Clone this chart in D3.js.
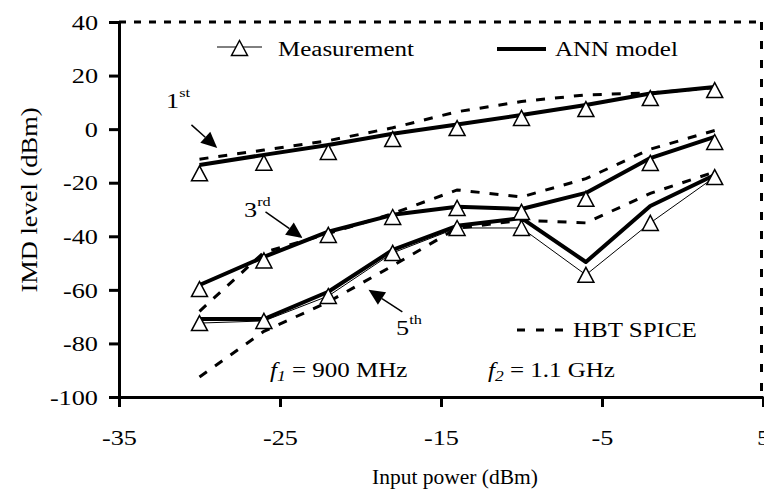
<!DOCTYPE html>
<html>
<head>
<meta charset="utf-8">
<script src="https://cdn.jsdelivr.net/npm/d3@7"></script>
<style>
  body { margin: 0; background: #fff; }
  text { font-family: 'Liberation Serif', 'Times New Roman', serif; fill: #000; }
</style>
</head>
<body>
<div id="chart"></div>
<script>
// IMD level vs input power: measurement, ANN model, HBT SPICE

// Data
const inputPower = [-30, -26, -22, -18, -14, -10, -6, -2, 2]

const meas1st = [-16.5, -12.5, -8.5, -3.7, 0.4, 4.2, 7.5, 11.6, 14.6]
const ann1st = [-13.4, -9.6, -5.9, -1.7, 1.7, 5.3, 9, 13.3, 15.7]
const spice1st = [-11.2, -7.8, -4.3, 0.5, 6.5, 10.3, 12.8, 13.5, 15.5]

const meas3rd = [-59.7, -49, -39.5, -32.8, -29.4, -30.9, -26, -12.6, -4.8]
const ann3rd = [-58.2, -47.7, -38.3, -32, -29, -29.8, -23.8, -10.8, -2.9]
const spice3rd = [-68, -46, -39, -31.5, -22.7, -25.3, -18.5, -7.5, -0.5]

const meas5th = [-72.4, -71.6, -62.3, -46.2, -36.9, -36.9, -54.4, -35, -17.9]
const ann5th = [-70.9, -70.9, -60.7, -45.1, -36.1, -33.2, -49.6, -28.7, -17.1]
const spice5th = [-92.5, -75.5, -64.5, -51, -37, -34, -35, -24, -16]

const xTicks = [-35, -25, -15, -5, 5]
const yTicks = [-100, -80, -60, -40, -20, 0, 20, 40]

// Layout
const width = 764
const height = 493
const margin = { top: 22, right: 1, bottom: 96, left: 119 }
const stretch = 1.25

const svg = d3.select('#chart')
  .append('svg')
  .attr('width', width)
  .attr('height', height)

const x = d3.scaleLinear().domain([-35, 5]).range([margin.left, width - margin.right])
const y = d3.scaleLinear().domain([-100, 40]).range([height - margin.bottom, margin.top])

// dashed frame on top and right
svg.append('line')
  .attr('x1', x(-35)).attr('x2', x(5))
  .attr('y1', y(40)).attr('y2', y(40))
  .attr('stroke', '#000').attr('stroke-width', 3)
  .attr('stroke-dasharray', '7,8')
svg.append('line')
  .attr('x1', x(5) - 1.5).attr('x2', x(5) - 1.5)
  .attr('y1', y(40)).attr('y2', y(-100))
  .attr('stroke', '#000').attr('stroke-width', 3)
  .attr('stroke-dasharray', '8,11')

// Axes
const fmt = d => String(d)

const yAxis = svg.append('g')
  .attr('transform', `translate(${x(-35)},0)`)
  .call(d3.axisLeft(y).tickValues(yTicks).tickFormat(fmt).tickSize(10).tickSizeOuter(0))
yAxis.select('.domain').attr('stroke-width', 3)
yAxis.selectAll('.tick line').attr('stroke-width', 3)
yAxis.selectAll('.tick text')
  .style('font-family', "'Liberation Serif', serif")
  .style('font-size', '21px')
  .attr('x', -21 / stretch)
  .attr('dy', '0.34em')
  .attr('transform', `scale(${stretch},1)`)

const xAxis = svg.append('g')
  .attr('transform', `translate(0,${y(-100)})`)
  .call(d3.axisBottom(x).tickValues(xTicks).tickFormat(fmt).tickSize(10).tickSizeOuter(0))
xAxis.select('.domain').attr('stroke-width', 3)
xAxis.selectAll('.tick line').attr('stroke-width', 3)
xAxis.selectAll('.tick text')
  .style('font-family', "'Liberation Serif', serif")
  .style('font-size', '21px')
  .attr('y', 0)
  .attr('dy', 0)
  .attr('transform', `translate(0,48) scale(${stretch},1)`)

// Axis titles
svg.append('text')
  .attr('x', 455)
  .attr('y', 484)
  .attr('text-anchor', 'middle')
  .attr('font-size', 22)
  .attr('textLength', 166)
  .attr('lengthAdjust', 'spacingAndGlyphs')
  .text('Input power (dBm)')

svg.append('text')
  .attr('transform', 'translate(37,200) rotate(-90)')
  .attr('text-anchor', 'middle')
  .attr('font-size', 23)
  .attr('textLength', 185)
  .attr('lengthAdjust', 'spacingAndGlyphs')
  .text('IMD level (dBm)')

// Series
const line = d3.line().x(d => x(d[0])).y(d => y(d[1]))
const pairs = vals => inputPower.map((p, i) => [p, vals[i]])

const spiceSets = [spice1st, spice3rd, spice5th]
const annSets = [ann1st, ann3rd, ann5th]
const measSets = [meas1st, meas3rd, meas5th]
// only the 5th-order measurement shows its thin joining line
const measLine = [false, false, true]

spiceSets.forEach(s => {
  svg.append('path')
    .attr('d', line(pairs(s)))
    .attr('fill', 'none')
    .attr('stroke', '#000')
    .attr('stroke-width', 3)
    .attr('stroke-dasharray', '9,10')
})

annSets.forEach(s => {
  svg.append('path')
    .attr('d', line(pairs(s)))
    .attr('fill', 'none')
    .attr('stroke', '#000')
    .attr('stroke-width', 4)
    .attr('stroke-linejoin', 'round')
})

const tri = 'M0,-7.5L8,7.5L-8,7.5Z'
measSets.forEach((s, i) => {
  if (measLine[i]) {
    svg.append('path')
      .attr('d', line(pairs(s)))
      .attr('fill', 'none')
      .attr('stroke', '#000')
      .attr('stroke-width', 1)
  }
  svg.selectAll(null)
    .data(pairs(s))
    .join('path')
    .attr('d', tri)
    .attr('transform', d => `translate(${x(d[0])},${y(d[1])})`)
    .attr('fill', '#fff')
    .attr('stroke', '#000')
    .attr('stroke-width', 1.5)
})

// Stretched text helper (the original's type is wide)
function label(px, py, size) {
  return svg.append('text')
    .attr('transform', `translate(${px},${py}) scale(${stretch},1)`)
    .attr('font-size', size)
}

// Legend
svg.append('line').attr('x1', 217).attr('x2', 262).attr('y1', 47).attr('y2', 47)
  .attr('stroke', '#000').attr('stroke-width', 1)
svg.append('path').attr('d', tri).attr('transform', 'translate(239.5,48)')
  .attr('fill', '#fff').attr('stroke', '#000').attr('stroke-width', 1.5)
label(278, 56, 20).text('Measurement')

svg.append('line').attr('x1', 497).attr('x2', 546).attr('y1', 49).attr('y2', 49)
  .attr('stroke', '#000').attr('stroke-width', 4)
label(555, 56, 20).text('ANN model')

svg.append('line').attr('x1', 517).attr('x2', 563).attr('y1', 330).attr('y2', 330)
  .attr('stroke', '#000').attr('stroke-width', 3).attr('stroke-dasharray', '8,11')
label(573, 337, 20).text('HBT SPICE')

// Frequency notes
const f1 = label(270, 377, 20)
f1.append('tspan').attr('font-style', 'italic').text('f')
f1.append('tspan').attr('font-style', 'italic').attr('font-size', 14).attr('dy', 4).text('1')
f1.append('tspan').attr('dy', -4).text(' = 900 MHz')

const f2 = label(488, 377, 20)
f2.append('tspan').attr('font-style', 'italic').text('f')
f2.append('tspan').attr('font-style', 'italic').attr('font-size', 14).attr('dy', 4).text('2')
f2.append('tspan').attr('dy', -4).text(' = 1.1 GHz')

// Order labels with arrows (positions in data units)
const orders = [
  { num: '1', sup: 'st', tx: 166, ty: 108, tail: [-30.5, 1.6], tip: [-28.9, -7.0] },
  { num: '3', sup: 'rd', tx: 244, ty: 217, tail: [-25.9, -30.9], tip: [-23.6, -40.6] },
  { num: '5', sup: 'th', tx: 396, ty: 335, tail: [-17.4, -68.2], tip: [-19.5, -60.0] }
]

orders.forEach(o => {
  const t = label(o.tx, o.ty, 21)
  t.append('tspan').text(o.num)
  t.append('tspan').attr('font-size', 13).attr('dy', -11).text(o.sup)

  const x0 = x(o.tail[0]), y0 = y(o.tail[1])
  const x1 = x(o.tip[0]), y1 = y(o.tip[1])
  const ang = Math.atan2(y1 - y0, x1 - x0)
  const len = 16, half = 7.5
  const bx = x1 - len * Math.cos(ang), by = y1 - len * Math.sin(ang)
  svg.append('line')
    .attr('x1', x0).attr('y1', y0).attr('x2', bx).attr('y2', by)
    .attr('stroke', '#000').attr('stroke-width', 1.5)
  svg.append('path')
    .attr('d', `M${x1},${y1}L${bx + half * Math.sin(ang)},${by - half * Math.cos(ang)}L${bx - half * Math.sin(ang)},${by + half * Math.cos(ang)}Z`)
    .attr('fill', '#000')
})
</script>
</body>
</html>
